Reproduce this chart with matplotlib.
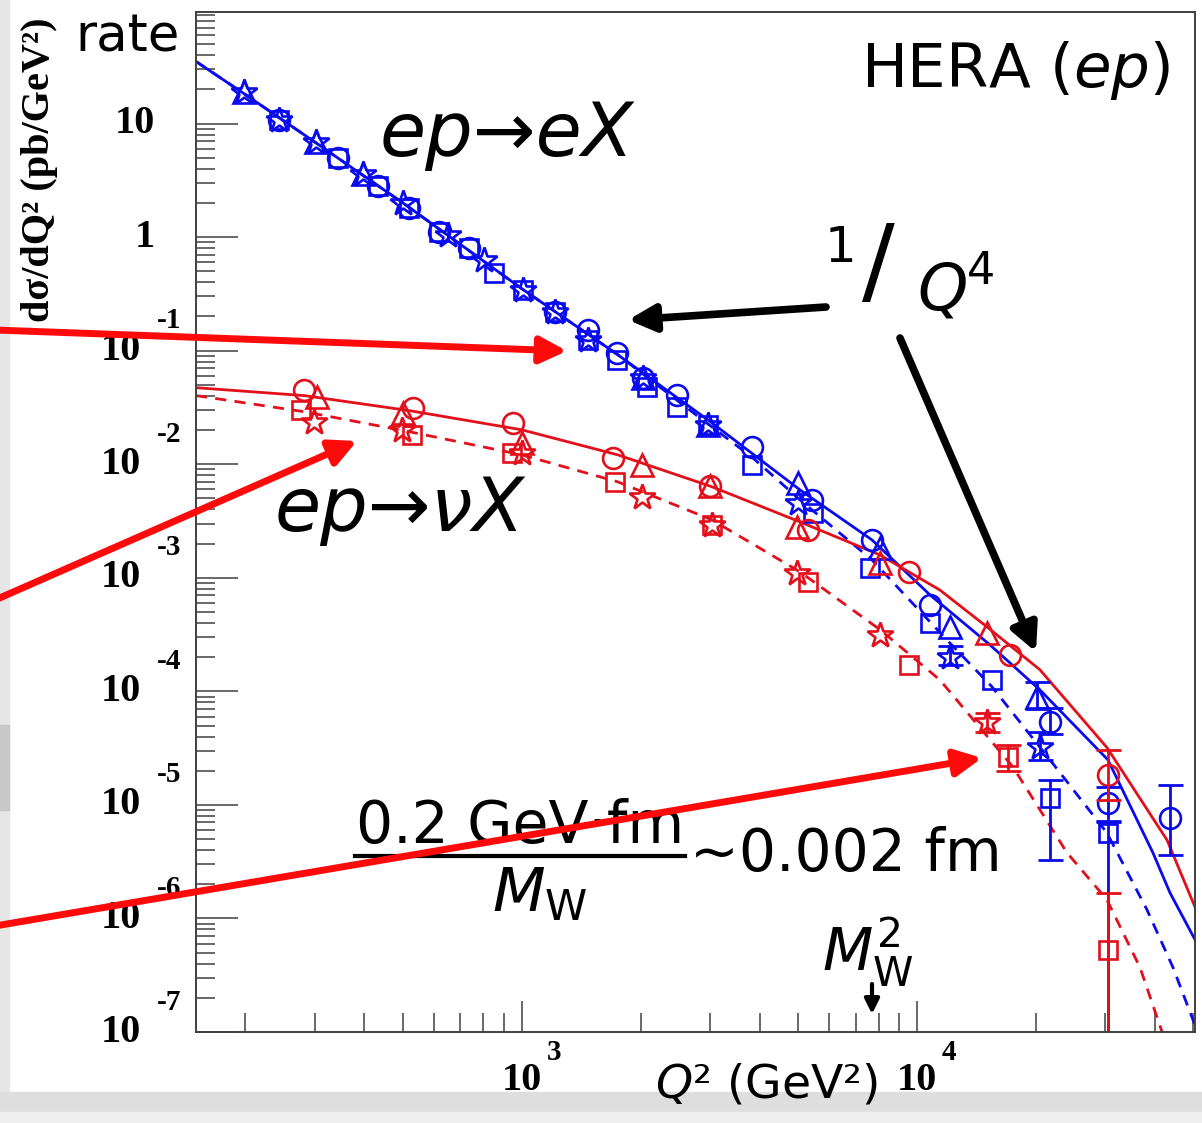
import numpy as np
import matplotlib.pyplot as plt
from matplotlib import transforms
from matplotlib.patches import Rectangle

# ---- values: Q^2 (GeV^2) , dsigma/dQ^2 (pb/GeV^2)
# neutral current  ep -> eX  (blue)
nc_circ_q2 = [243, 344, 434, 518, 617, 734, 1212, 1470, 1740, 2025, 2470, 3830, 5420, 7692, 10790, 21720, 30450, 43710]
nc_circ_y = [10.8, 5.02, 2.79, 1.82, 1.12, 0.808, 0.221, 0.153, 0.096, 0.0578, 0.041, 0.01426, 0.00487, 0.00216, 5.78e-4, 5.39e-5, 1.04e-5, 7.68e-6]
nc_sq_q2 = [243, 344, 434, 518, 617, 734, 850, 1006, 1212, 1470, 1740, 2073, 2470, 2955, 3830, 5450, 7603, 10790, 15480, 21720, 30450]
nc_sq_y = [10.8, 5.02, 2.79, 1.82, 1.12, 0.808, 0.486, 0.345, 0.221, 0.125, 0.0833, 0.0482, 0.0321, 0.0223, 0.0099, 0.00374, 0.00122, 4.02e-4, 1.26e-4, 1.15e-5, 5.67e-6]
nc_tri_q2 = [198, 301, 398, 2025, 2955, 4990, 8061, 12120, 20140]
nc_tri_y = [18.8, 6.93, 3.56, 0.0578, 0.0223, 0.00687, 0.00184, 3.70e-4, 8.95e-5]
nc_star_q2 = [198, 243, 301, 398, 500, 653, 801, 1006, 1212, 1470, 2025, 2955, 4990, 12120, 20480]
nc_star_y = [18.8, 10.8, 6.93, 3.56, 2.01, 1.05, 0.634, 0.345, 0.221, 0.125, 0.0578, 0.0223, 0.00458, 2.01e-4, 3.24e-5]

# charged current  ep -> nuX  (red)
cc_circ_q2 = [282, 530, 949, 1700, 2990, 5298, 9550, 17200, 30450]
cc_circ_y = [0.0453, 0.0315, 0.0232, 0.0114, 0.00647, 0.00265, 1.13e-3, 2.1e-4, 1.84e-5]
cc_tri_q2 = [303, 500, 1000, 2013, 2990, 4968, 8061, 15040]
cc_tri_y = [0.0393, 0.0284, 0.01545, 0.0099, 0.00647, 0.00281, 1.355e-3, 3.27e-4]
cc_sq_q2 = [277, 527, 943, 1720, 3027, 5298, 9550, 17000, 30450]
cc_sq_y = [0.0302, 0.0182, 0.0126, 0.0070, 0.00293, 9.2e-4, 1.71e-4, 2.65e-5, 5.3e-7]
cc_star_q2 = [299, 497, 1000, 2013, 3027, 4968, 8061, 15040]
cc_star_y = [0.0237, 0.0201, 0.0126, 0.00517, 0.00293, 1.11e-3, 3.15e-4, 5.39e-5]

# error bars that are visible (q2, value, low, high)
nc_err_q2 = [12120, 20140, 20480, 21720, 21720, 30450, 30450, 43710]
nc_err_y = [2.01e-4, 8.95e-5, 3.24e-5, 5.39e-5, 1.15e-5, 1.04e-5, 5.67e-6, 7.68e-6]
nc_err_lo = [1.7e-4, 7.0e-5, 2.5e-5, 4.2e-5, 3.3e-6, 7.0e-6, 1e-9, 3.6e-6]
nc_err_hi = [2.5e-4, 1.2e-4, 4.4e-5, 7.2e-5, 1.66e-5, 1.44e-5, 7.2e-6, 1.5e-5]
cc_err_q2 = [15040, 17000, 30450, 30450]
cc_err_y = [5.39e-5, 2.65e-5, 1.84e-5, 5.3e-7]
cc_err_lo = [4.4e-5, 2.0e-5, 1.1e-5, 1e-9]
cc_err_hi = [6.5e-5, 3.4e-5, 3.05e-5, 1.68e-6]

# model curves
nc_fit_q2 = [150, 200, 301, 508, 1000, 1750, 3027, 5056, 7692, 10790, 15300, 20480, 30450, 39580, 43710, 50560]
nc_fit_y = [35.2, 18.0, 6.8, 1.93, 0.352, 0.0922, 0.0232, 0.00596, 0.00216, 7.08e-4, 2.57e-4, 1.03e-4, 2.49e-5, 3.78e-6, 1.68e-6, 6.5e-7]
nc_dash_q2 = [150, 200, 301, 508, 1000, 1750, 2822, 3844, 5056, 7692, 11910, 15480, 21720, 30270, 38230, 44480, 50560]
nc_dash_y = [35.2, 18.0, 6.8, 1.93, 0.352, 0.0922, 0.0257, 0.0114, 0.00487, 0.00144, 2.84e-4, 1.10e-4, 2.49e-5, 5.67e-6, 1.19e-6, 3.7e-7, 1.15e-7]
cc_fit_q2 = [150, 282, 521, 1000, 1750, 3027, 5056, 8061, 11436, 15040, 20480, 30270, 42960, 50560]
cc_fit_y = [0.0472, 0.0402, 0.0296, 0.0201, 0.0121, 0.00634, 0.00311, 0.00159, 7.8e-4, 3.7e-4, 1.55e-4, 3.2e-5, 4.9e-6, 1.26e-6]
cc_dash_q2 = [150, 282, 521, 1000, 1750, 3027, 5056, 8061, 11436, 17500, 23970, 30270, 36700, 41730, 43710]
cc_dash_y = [0.0402, 0.029, 0.0193, 0.0121, 0.0070, 0.00324, 0.00113, 3.5e-4, 1.26e-4, 2.16e-5, 3.8e-6, 1.46e-6, 3.7e-7, 1e-7, 5.7e-8]

blue = '#0a0aee'
red = '#e3101c'
W, H = 1202, 1123

fig = plt.figure(figsize=(W / 100, H / 100), dpi=100, facecolor='white')
ax = fig.add_axes([196 / W, 1 - 1032 / H, (1195 - 196) / W, (1032 - 12) / H])
ax.set_xscale('log')
ax.set_yscale('log')
ax.set_xlim(150, 50560)
ax.set_ylim(1e-7, 96)

ax.plot(nc_fit_q2, nc_fit_y, color=blue, lw=2)
ax.plot(nc_dash_q2, nc_dash_y, color=blue, lw=2, ls=(0, (4, 3)))
ax.plot(cc_fit_q2, cc_fit_y, color=red, lw=2)
ax.plot(cc_dash_q2, cc_dash_y, color=red, lw=2, ls=(0, (4, 3)))

mk = dict(ls='none', mfc='none', mew=1.9)
for q, v, m, s, c in [(nc_circ_q2, nc_circ_y, 'o', 15, blue), (nc_sq_q2, nc_sq_y, 's', 13, blue),
                      (nc_tri_q2, nc_tri_y, '^', 16, blue), (nc_star_q2, nc_star_y, '*', 19, blue),
                      (cc_circ_q2, cc_circ_y, 'o', 15, red), (cc_sq_q2, cc_sq_y, 's', 13, red),
                      (cc_tri_q2, cc_tri_y, '^', 16, red), (cc_star_q2, cc_star_y, '*', 19, red)]:
    ax.plot(q, v, marker=m, ms=s, mec=c, **mk)

for q, v, lo, hi, c in [(nc_err_q2, nc_err_y, nc_err_lo, nc_err_hi, blue),
                        (cc_err_q2, cc_err_y, cc_err_lo, cc_err_hi, red)]:
    v = np.array(v)
    ax.errorbar(q, v, yerr=[v - np.array(lo), np.array(hi) - v], fmt='none',
                ecolor=c, elinewidth=2, capsize=9, capthick=2)

for sp in ax.spines.values():
    sp.set_color('#404040')
    sp.set_linewidth(1.4)
ax.tick_params(which='both', direction='in', color='#404040', width=1.1,
               top=False, right=False, labelleft=False, labelbottom=False)
ax.tick_params(axis='y', which='major', length=30)
ax.tick_params(axis='y', which='minor', length=14)
ax.tick_params(axis='x', which='major', length=22)
ax.tick_params(axis='x', which='minor', length=14)

# overlay in figure pixels for the annotations
ov = fig.add_axes([0, 0, 1, 1], zorder=5)
ov.set_xlim(0, W)
ov.set_ylim(H, 0)
ov.axis('off')
ov.patch.set_alpha(0)

ov.add_patch(Rectangle((0, 0), 9, 1092, color='#e6e6e6', zorder=0))
ov.add_patch(Rectangle((0, 725), 9, 85, color='#c8c8c8', zorder=0))
ov.add_patch(Rectangle((0, 1092), W, 20, color='#dedede', zorder=0))
ov.add_patch(Rectangle((0, 1112), W, 11, color='#eeeeee', zorder=0))

# tick labels in ROOT style
serif = dict(family='Liberation Serif', weight='bold', color='black')
ty = transforms.blended_transform_factory(ov.transData, ax.transData)
ytick_vals = [10, 1, 1e-1, 1e-2, 1e-3, 1e-4, 1e-5, 1e-6, 1e-7]
ytick_exp = ['', '', '-1', '-2', '-3', '-4', '-5', '-6', '-7']
for v, e in zip(ytick_vals, ytick_exp):
    if e == '':
        ov.text(155, v, '10' if v == 10 else '1', transform=ty, ha='right', va='center', fontsize=29, **serif)
    else:
        ov.text(141, v, '10', transform=ty, ha='right', va='center', fontsize=29, **serif)
        ov.text(157, v, e, ha='left', va='center', fontsize=21,
                transform=transforms.offset_copy(ty, fig=fig, y=30, units='dots'), **serif)
tx = transforms.blended_transform_factory(ax.transData, ov.transData)
for v, e in [(1000, '3'), (10000, '4')]:
    ov.text(v, 1080, '10', transform=tx, ha='center', va='center', fontsize=29, **serif)
    ov.text(v, 1052, e, ha='left', va='center', fontsize=21,
            transform=transforms.offset_copy(tx, fig=fig, x=25, units='dots'), **serif)

ov.text(40, 170, 'dσ/dQ² (pb/GeV²)', rotation=90, ha='center', va='center', fontsize=29, **serif)

hand = dict(family='DejaVu Sans', color='black')
ov.text(75, 37, 'rate', ha='left', va='center', fontsize=37, **hand)
ov.text(1170, 70, r'HERA ($\mathit{ep}$)', ha='right', va='center', fontsize=44, **hand)
ov.text(380, 135, 'ep→eX', ha='left', va='center', fontsize=54, style='italic', **hand)
ov.text(275, 510, 'ep→νX', ha='left', va='center', fontsize=54, style='italic', **hand)
ov.text(840, 248, '1', ha='center', va='center', fontsize=36, **hand)
ov.text(878, 266, '/', ha='center', va='center', fontsize=70, **hand)
ov.text(942, 292, 'Q', ha='center', va='center', fontsize=46, style='italic', **hand)
ov.text(981, 272, '4', ha='center', va='center', fontsize=32, **hand)
ov.text(520, 826, '0.2 GeV·fm', ha='center', va='center', fontsize=42, **hand)
ov.plot([355, 685], [856, 856], color='black', lw=3)
ov.text(540, 895, r'$\mathit{M}_\mathrm{W}$', ha='center', va='center', fontsize=44, **hand)
ov.text(690, 855, '~0.002 fm', ha='left', va='center', fontsize=42, **hand)
ov.text(868, 952, r'$\mathit{M}_\mathrm{W}^2$', ha='center', va='center', fontsize=42, **hand)
ov.text(655, 1085, r'$\mathit{Q}$² (GeV²)', ha='left', va='center', fontsize=34, zorder=3, **hand)

arr_red = dict(arrowstyle='-|>', color='#ff0a0a', lw=5, mutation_scale=40, shrinkA=0, shrinkB=0)
arr_blk = dict(arrowstyle='-|>', color='black', lw=5.5, mutation_scale=40, shrinkA=0, shrinkB=0)
ov.annotate('', xy=(567, 351), xytext=(-5, 330), arrowprops=arr_red)
ov.annotate('', xy=(357, 441), xytext=(-5, 600), arrowprops=arr_red)
ov.annotate('', xy=(982, 758), xytext=(-5, 926), arrowprops=arr_red)
ov.annotate('', xy=(628, 320), xytext=(826, 307), arrowprops=arr_blk)
ov.annotate('', xy=(1036, 652), xytext=(900, 338), arrowprops=arr_blk)
ov.annotate('', xy=(872, 1014), xytext=(872, 984),
            arrowprops=dict(arrowstyle='-|>', color='black', lw=3, mutation_scale=22, shrinkA=0, shrinkB=0))

fig.savefig('out.png', dpi=100, facecolor='white')
